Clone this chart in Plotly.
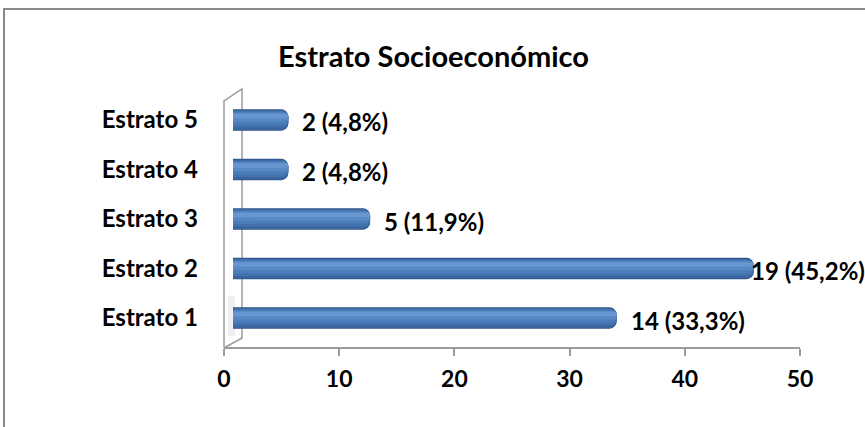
import plotly.graph_objects as go

# Data
categories = ["Estrato 1", "Estrato 2", "Estrato 3", "Estrato 4", "Estrato 5"]
counts = [14, 19, 5, 2, 2]
percents = [33.3, 45.2, 11.9, 4.8, 4.8]
x_ticks = [0, 10, 20, 30, 40, 50]
title_text = "Estrato Socioeconómico"

W, H = 865, 427
FONT = "Lato"
GRAY = "#9c9c9c"


def px(x):
    return x / W


def py(y):
    return 1 - y / H


fig = go.Figure()

# Anchor point for the front (tick-bearing) axis pair so its subplot is built
fig.add_trace(go.Scatter(
    x=[0], y=[categories[0]], mode="markers",
    marker=dict(opacity=0, size=1), xaxis="x", yaxis="y",
    hoverinfo="skip", showlegend=False,
))

# Cylinder-like bars: overlaid layers from the dark rim to the light highlight
layers = [
    (0.43, -0.215, "#2E5386", 7),
    (0.40, -0.200, "#3A659F", 7),
    (0.33, -0.150, "#4372AD", 6),
    (0.26, -0.095, "#4C7EBB", 6),
    (0.17, -0.030, "#5789C6", 5),
    (0.09, 0.035, "#6896D0", 3),
]
for width, offset, color, radius in layers:
    fig.add_trace(go.Bar(
        y=categories,
        x=percents,
        orientation="h",
        width=width,
        offset=offset,
        marker=dict(color=color, cornerradius=radius, line=dict(width=0)),
        xaxis="x2",
        yaxis="y",
        hoverinfo="skip",
        showlegend=False,
    ))

# Value labels (the longest one is pulled back so it stays on the page)
annotations = []
for cat, n, p in zip(categories, counts, percents):
    label = f"{n} ({p:.1f}%)".replace(".", ",")
    annotations.append(dict(
        x=p, y=cat, xref="x2", yref="y",
        text=label, showarrow=False,
        xanchor="left", yanchor="middle",
        xshift=12 if p < 40 else -5, yshift=-2,
        font=dict(family=FONT, size=24, color="#000000", weight="bold"),
    ))

# Title
annotations.append(dict(
    x=px(433), y=py(55), xref="paper", yref="paper",
    text=title_text, showarrow=False,
    xanchor="center", yanchor="middle",
    font=dict(family=FONT, size=29, color="#000000", weight="bold"),
))

# 3D wall outline, soft shadow and outer frame
shapes = [
    dict(type="rect", xref="paper", yref="paper",
         x0=px(228), x1=px(235), y0=py(336), y1=py(296),
         fillcolor="rgba(150,150,150,0.15)", line=dict(width=0), layer="below"),
    dict(type="path", xref="paper", yref="paper",
         path=(f"M {px(224)},{py(348)} L {px(224)},{py(101)} "
               f"L {px(242)},{py(89)} L {px(242)},{py(338)} "
               f"L {px(224)},{py(348)}"),
         line=dict(color=GRAY, width=1.5), fillcolor="rgba(0,0,0,0)",
         layer="below"),
    dict(type="rect", xref="paper", yref="paper",
         x0=px(4), x1=px(900), y0=py(9), y1=py(500),
         line=dict(color="#8a8a8a", width=2), fillcolor="rgba(0,0,0,0)",
         layer="below"),
]

fig.update_layout(
    width=W, height=H,
    margin=dict(l=0, r=0, t=0, b=0, autoexpand=False),
    paper_bgcolor="#ffffff",
    plot_bgcolor="rgba(0,0,0,0)",
    barmode="overlay",
    showlegend=False,
    font=dict(family=FONT, color="#000000"),
    xaxis=dict(
        domain=[px(224), px(800)],
        range=[0, 50],
        tickvals=x_ticks,
        ticks="outside", ticklen=7, tickwidth=1.5, tickcolor=GRAY,
        showline=True, linecolor=GRAY, linewidth=1.5,
        showgrid=False, zeroline=False,
        anchor="free", position=py(348),
        tickfont=dict(family=FONT, size=23, color="#000000", weight="bold"),
        ticklabelstandoff=4,
        automargin=False,
        fixedrange=True,
    ),
    xaxis2=dict(
        domain=[px(233), px(809)],
        range=[0, 50],
        visible=False,
        anchor="y",
        automargin=False,
        fixedrange=True,
    ),
    yaxis=dict(
        domain=[py(342.75), py(95.25)],
        range=[-0.5, 4.5],
        type="category",
        categoryorder="array", categoryarray=categories,
        showline=False, showgrid=False, zeroline=False,
        ticks="",
        tickfont=dict(family=FONT, size=24, color="#000000", weight="bold"),
        ticklabelstandoff=25,
        anchor="x",
        automargin=False,
        fixedrange=True,
    ),
    annotations=annotations,
    shapes=shapes,
)

fig.write_html("out.html")
